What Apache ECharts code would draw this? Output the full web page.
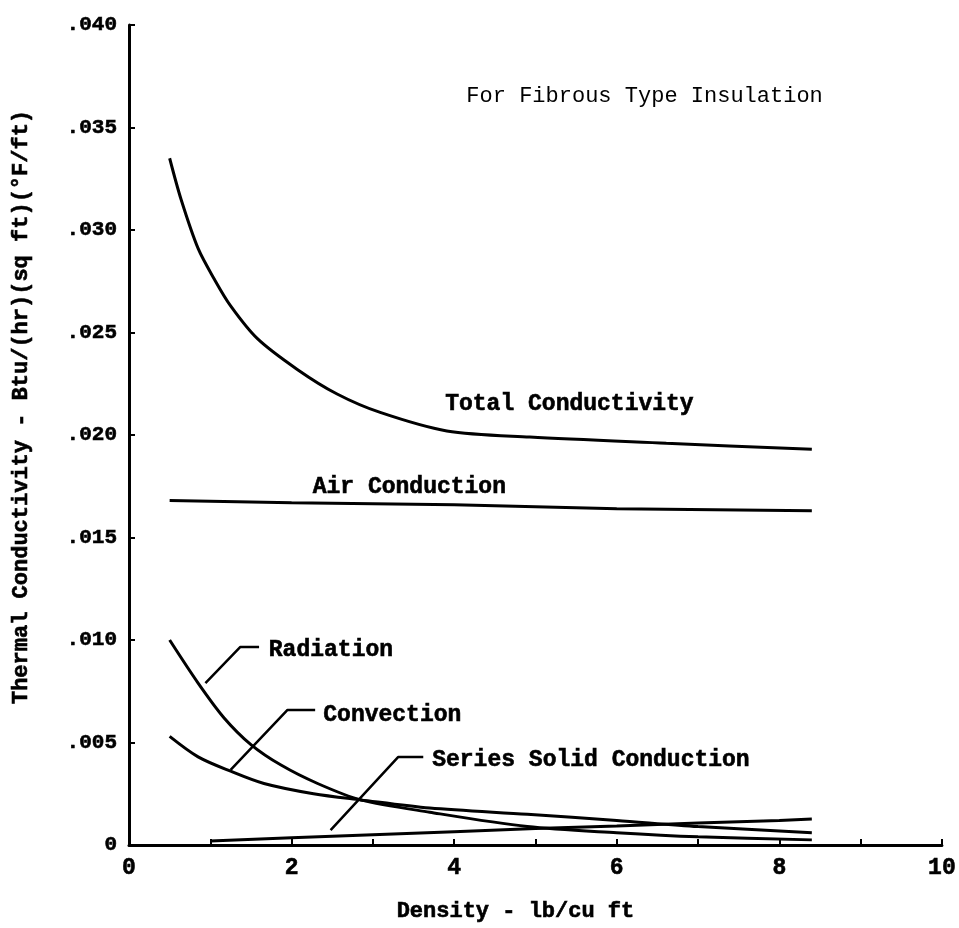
<!DOCTYPE html>
<html>
<head>
<meta charset="utf-8">
<script src="https://cdn.jsdelivr.net/npm/echarts@6/dist/echarts.min.js"></script>
<style>html,body{margin:0;padding:0;background:#fff}#c{width:959px;height:928px}</style>
</head>
<body>
<div id="c"></div>
<script>
// ---- data ----
var xTicks = [0, 2, 4, 6, 8, 10];
var yTicks = ['0', '.005', '.010', '.015', '.020', '.025', '.030', '.035', '.040'];

var totalX = [0.5, 0.64, 0.85, 1.05, 1.25, 1.58, 2.07, 2.56, 3.09, 3.91, 4.93, 6.61, 8.4];
var totalY = [0.0335, 0.0315, 0.0291, 0.0276, 0.0263, 0.0247, 0.0232, 0.0220, 0.0211, 0.0202, 0.0199, 0.0196, 0.0193];

var airX = [0.5, 2, 4, 6, 8.4];
var airY = [0.0168, 0.0167, 0.0166, 0.0164, 0.0163];

var radX = [0.5, 0.85, 1.17, 1.5, 1.87, 2.32, 2.85, 3.7, 4.9, 6, 7, 8.4];
var radY = [0.0100, 0.0079, 0.0062, 0.0049, 0.0039, 0.0030, 0.0022, 0.0016, 0.0009, 0.0006, 0.0004, 0.00025];

var convX = [0.5, 0.85, 1.25, 1.66, 2.27, 2.85, 3.7, 4.9, 6, 7, 8.4];
var convY = [0.0053, 0.0043, 0.0036, 0.0030, 0.0025, 0.0022, 0.0018, 0.0015, 0.0012, 0.0009, 0.0006];

var solidX = [1, 2, 3, 4, 5, 6, 7, 8, 8.4];
var solidY = [0.0002, 0.00035, 0.0005, 0.00065, 0.0008, 0.00093, 0.00107, 0.0012, 0.00127];

var seriesNames = ['Total Conductivity', 'Air Conduction', 'Radiation', 'Convection', 'Series Solid Conduction'];
var noteText = 'For Fibrous Type Insulation';
var xName = 'Density - lb/cu ft';
var yName = 'Thermal Conductivity - Btu/(hr)(sq ft)(°F/ft)';

// ---- annotation anchors (data coordinates) ----
var labelAnchors = [
  {text: seriesNames[0], x: 3.89, y: 0.0215},
  {text: seriesNames[1], x: 2.26, y: 0.01746},
  {text: seriesNames[2], x: 1.72, y: 0.0095},
  {text: seriesNames[3], x: 2.39, y: 0.00634},
  {text: seriesNames[4], x: 3.73, y: 0.00415}
];
var leaders = [
  [[0.94, 0.0079], [1.37, 0.00966], [1.6, 0.00966]],
  [[1.25, 0.00366], [1.95, 0.00659], [2.29, 0.00659]],
  [[2.48, 0.00073], [3.31, 0.00429], [3.62, 0.00429]]
];

function zip(a, b) { return a.map(function (v, i) { return [v, b[i]]; }); }

var FONT = '"Liberation Mono", "DejaVu Sans Mono", monospace';
var curveStyle = {color: '#000', width: 3};

var series = [
  [totalX, totalY], [airX, airY], [radX, radY], [convX, convY], [solidX, solidY]
].map(function (p, i) {
  return {
    name: seriesNames[i], type: 'line', data: zip(p[0], p[1]),
    smooth: i === 1 || i === 4 ? false : 0.3, symbol: 'none',
    lineStyle: curveStyle, silent: true
  };
});
leaders.forEach(function (l) {
  series.push({type: 'line', data: l, symbol: 'none', silent: true,
    lineStyle: {color: '#000', width: 2.5}});
});

var boldText = {fontFamily: FONT, fontWeight: 'bold', color: '#000', textBorderColor: '#000', textBorderWidth: 0.6};

var chart = echarts.init(document.getElementById('c'), null, {renderer: 'canvas'});
chart.setOption({
  animation: false,
  backgroundColor: '#fff',
  grid: {left: 129, right: 16, top: 25, bottom: 83},
  xAxis: {
    type: 'value', min: 0, max: 10, interval: 1,
    name: xName, nameLocation: 'middle', nameGap: 55,
    nameTextStyle: Object.assign({fontSize: 22, padding: [0, 40, 0, 0]}, boldText),
    axisLine: {show: true, lineStyle: {color: '#000', width: 3}},
    axisTick: {show: true, inside: true, length: 6, lineStyle: {color: '#000', width: 2}},
    axisLabel: Object.assign({
      margin: 12, fontSize: 23,
      formatter: function (v) { return xTicks.indexOf(v) >= 0 ? String(v) : ''; }
    }, boldText),
    splitLine: {show: false}
  },
  yAxis: {
    type: 'value', min: 0, max: 0.04, interval: 0.005,
    name: yName, nameLocation: 'middle', nameGap: 97, nameRotate: 90,
    nameTextStyle: Object.assign({fontSize: 22, padding: [0, 0, 0, 56]}, boldText),
    axisLine: {show: true, lineStyle: {color: '#000', width: 3}},
    axisTick: {show: true, inside: true, length: 6, lineStyle: {color: '#000', width: 2}},
    axisLabel: Object.assign({
      margin: 12, fontSize: 21,
      formatter: function (v) { return yTicks[Math.round(v / 0.005)]; }
    }, boldText),
    splitLine: {show: false}
  },
  series: series
});

var g = labelAnchors.map(function (a) {
  var p = chart.convertToPixel({gridIndex: 0}, [a.x, a.y]);
  return {type: 'text', x: p[0], y: p[1], silent: true,
    style: {text: a.text, fill: '#000', stroke: '#000', lineWidth: 0.6,
      font: 'bold 23px ' + FONT, align: 'left', verticalAlign: 'middle'}};
});
var np = chart.convertToPixel({gridIndex: 0}, [4.15, 0.03654]);
g.push({type: 'text', x: np[0], y: np[1], silent: true,
  style: {text: noteText, fill: '#000', font: '22px ' + FONT, align: 'left', verticalAlign: 'middle'}});
chart.setOption({graphic: g});
</script>
</body>
</html>
